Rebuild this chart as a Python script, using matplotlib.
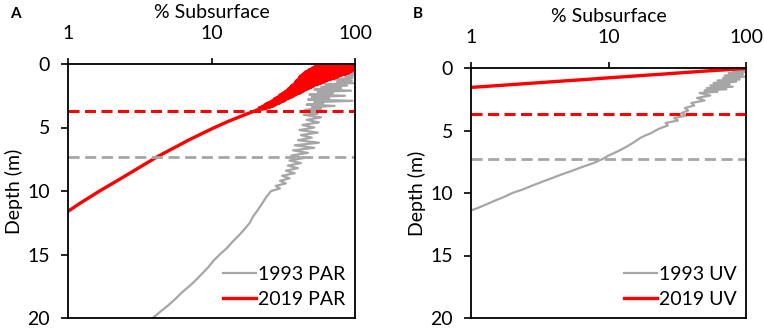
import numpy as np
import matplotlib
matplotlib.use('Agg')
import matplotlib.pyplot as plt

plt.rcParams['font.family'] = ['Lato', 'DejaVu Sans']

# panel A: PAR profiles (depth m, % subsurface)
par93_depth = [0.5, 0.6, 0.7, 0.8, 0.9, 1.0, 1.1, 1.2, 1.3, 1.4, 1.5, 1.6, 1.7, 1.8, 1.9, 2.0,
               2.1, 2.2, 2.3, 2.4, 2.5, 2.6, 2.7, 2.8, 2.9, 3.0, 3.1, 3.2, 3.3, 3.4, 3.5, 3.6,
               3.7, 3.8, 3.9, 4.0, 4.2, 4.4, 4.6, 4.8, 5.0, 5.2, 5.4, 5.6, 5.8, 6.0, 6.2, 6.4,
               6.6, 6.8, 7.0, 7.2, 7.4, 7.6, 7.8, 8.0, 8.2, 8.4, 8.6, 8.8, 9.0, 9.2, 9.4, 9.6,
               9.8, 10.0, 10.5, 11.0, 11.5, 12.0, 12.5, 13.0, 13.5, 14.0, 14.5, 15.0, 15.5,
               16.0, 16.5, 17.0, 17.5, 18.0, 18.5, 19.0, 19.5, 20.0]
par93_val = [99, 92, 98, 90, 97, 86, 96, 70, 95, 75, 98, 62, 88, 58, 80, 52,
             94, 55, 70, 48, 85, 50, 66, 47, 96, 52, 60, 46, 72, 50, 58, 45,
             62, 48, 55, 44, 58, 46, 56, 43, 52, 41, 55, 42, 50, 40, 56, 38,
             52, 37, 47, 36, 44, 35, 42, 34, 40, 33, 38, 31, 35, 30, 33, 28,
             30, 26, 24, 22.5, 21, 19.5, 18.5, 17, 15.5, 14, 12.8, 11.4, 10.3,
             9.5, 8.6, 7.8, 7.0, 6.2, 5.6, 5.0, 4.4, 3.9]
par19_depth = [0.00, 0.05, 0.10, 0.15, 0.20, 0.25, 0.30, 0.35, 0.40, 0.45,
               0.50, 0.55, 0.60, 0.65, 0.70, 0.75, 0.80, 0.85, 0.90, 0.95,
               1.00, 1.05, 1.10, 1.15, 1.20, 1.25, 1.30, 1.35, 1.40, 1.45,
               1.50, 1.55, 1.60, 1.65, 1.70, 1.75, 1.80, 1.85, 1.90, 1.95,
               2.00, 2.05, 2.10, 2.15, 2.20, 2.25, 2.30, 2.35, 2.40, 2.45,
               2.50, 2.55, 2.60, 2.65, 2.70, 2.75, 2.80, 2.85, 2.90, 2.95,
               3.00, 3.05, 3.10, 3.15, 3.20, 3.25, 3.30, 3.35, 3.40, 3.45,
               3.50, 3.60, 3.70, 4.0, 4.5, 5.0, 5.5, 6.0, 6.5, 7.0, 7.3, 8.0,
               9.0, 10.0, 11.0, 11.6]
par19_val = [100, 62, 100, 56, 99, 52, 100, 50, 98, 48,
             96, 47, 94, 45, 90, 44, 86, 43, 80, 42,
             76, 41, 72, 41, 68, 40, 64, 39, 61, 38.5,
             58, 38, 55, 37, 52, 36, 50, 35.5, 48, 34.5,
             46, 34, 44, 33, 42.5, 32, 41, 31, 39, 30,
             37.5, 29.5, 36, 28.5, 34.5, 27.5, 33, 27, 32, 26,
             30.5, 25, 29.5, 24, 28, 23.5, 27, 22.5, 25.5, 21.5,
             24, 21, 20, 17, 13.2, 10.5, 8.5, 6.9, 5.7, 4.7, 4.2, 3.3,
             2.35, 1.66, 1.2, 1.0]

# panel B: UV profiles
uv93_depth = [0.1, 0.2, 0.3, 0.4, 0.5, 0.6, 0.7, 0.8, 0.9, 1.0, 1.1, 1.2, 1.3, 1.4, 1.5,
              1.6, 1.7, 1.8, 1.9, 2.0, 2.2, 2.4, 2.6, 2.8, 3.0, 3.2, 3.4, 3.6, 3.8, 4.0,
              4.2, 4.4, 4.6, 4.8, 5.0, 5.2, 5.4, 5.6, 5.8, 6.0, 6.2, 6.4, 6.6, 6.8, 7.0,
              7.3, 7.6, 7.9, 8.2, 8.5, 8.8, 9.1, 9.4, 9.7, 10.0, 10.3, 10.6, 10.9, 11.2, 11.4]
uv93_val = [96, 80, 99, 75, 95, 70, 98, 68, 90, 62, 85, 58, 76, 55, 80, 52,
            72, 50, 62, 46, 55, 44, 50, 40, 42, 36, 38, 34, 37, 30, 32, 26,
            27, 24, 22, 20.5, 18.5, 17, 16, 15, 14, 13, 12, 11, 10, 9.0, 7.8, 6.5,
            5.5, 4.6, 3.9, 3.3, 2.8, 2.4, 2.0, 1.75, 1.5, 1.3, 1.12, 1.0]
uv19_depth = [0.0, 0.05, 0.1, 0.15, 0.2, 0.3, 0.4, 0.5, 0.6, 0.7, 0.8, 0.9, 1.0, 1.1,
              1.2, 1.3, 1.4, 1.5, 1.55]
uv19_val = [100, 95, 80, 70, 58, 43, 32, 24, 17.5, 13, 9.6, 7.2, 5.3, 3.9,
            2.9, 2.15, 1.6, 1.18, 1.0]

# 1% depth lines
zeu_1993 = 7.3
zeu_2019 = 3.7

gray = '#A6A6A6'
red = '#FF0000'
fs = 14

fig = plt.figure(figsize=(7.64, 3.28), dpi=100)
axA = fig.add_axes([68/764., 10/328., 287/764., 254/328.])
axB = fig.add_axes([471/764., 10/328., 275/764., 250/328.])

panels = [(axA, par93_depth, par93_val, par19_depth, par19_val, '1993 PAR', '2019 PAR', 'A'),
          (axB, uv93_depth, uv93_val, uv19_depth, uv19_val, '1993 UV', '2019 UV', 'B')]

for ax, d93, v93, d19, v19, lab93, lab19, letter in panels:
	ax.plot(v93, d93, color=gray, linewidth=1.6, label=lab93)
	ax.plot(v19, d19, color=red, linewidth=2.4, label=lab19)
	ax.axhline(zeu_2019, color=red, linewidth=2.2, dashes=(3.6, 1.8))
	ax.axhline(zeu_1993, color=gray, linewidth=2.0, dashes=(4.0, 2.0))
	ax.set_xscale('log')
	ax.set_xlim(1, 100)
	ax.set_ylim(20, 0)
	ax.set_xticks([1, 10, 100])
	ax.set_xticklabels(['1', '10', '100'])
	ax.minorticks_off()
	ax.set_yticks([0, 5, 10, 15, 20])
	ax.xaxis.tick_top()
	ax.xaxis.set_label_position('top')
	ax.tick_params(axis='x', direction='out', length=4, width=1.2, labelsize=fs, pad=12)
	ax.tick_params(axis='y', direction='out', length=5, width=1.2, labelsize=fs, pad=8)
	for s in ax.spines.values():
		s.set_linewidth(1.3)
	ax.set_xlabel('% Subsurface', fontsize=fs, labelpad=5)
	ax.set_ylabel('Depth (m)', fontsize=fs, labelpad=3)
	ax.legend(loc='lower right', frameon=False, fontsize=fs, handlelength=1.7,
	          handletextpad=0.1, labelspacing=0.45, borderaxespad=0.1)
	bb = ax.get_position()
	fig.text(bb.x0 - 58/764., 0.958, letter, fontsize=11, fontweight='bold', va='center')

plt.savefig('out.png', dpi=100)
